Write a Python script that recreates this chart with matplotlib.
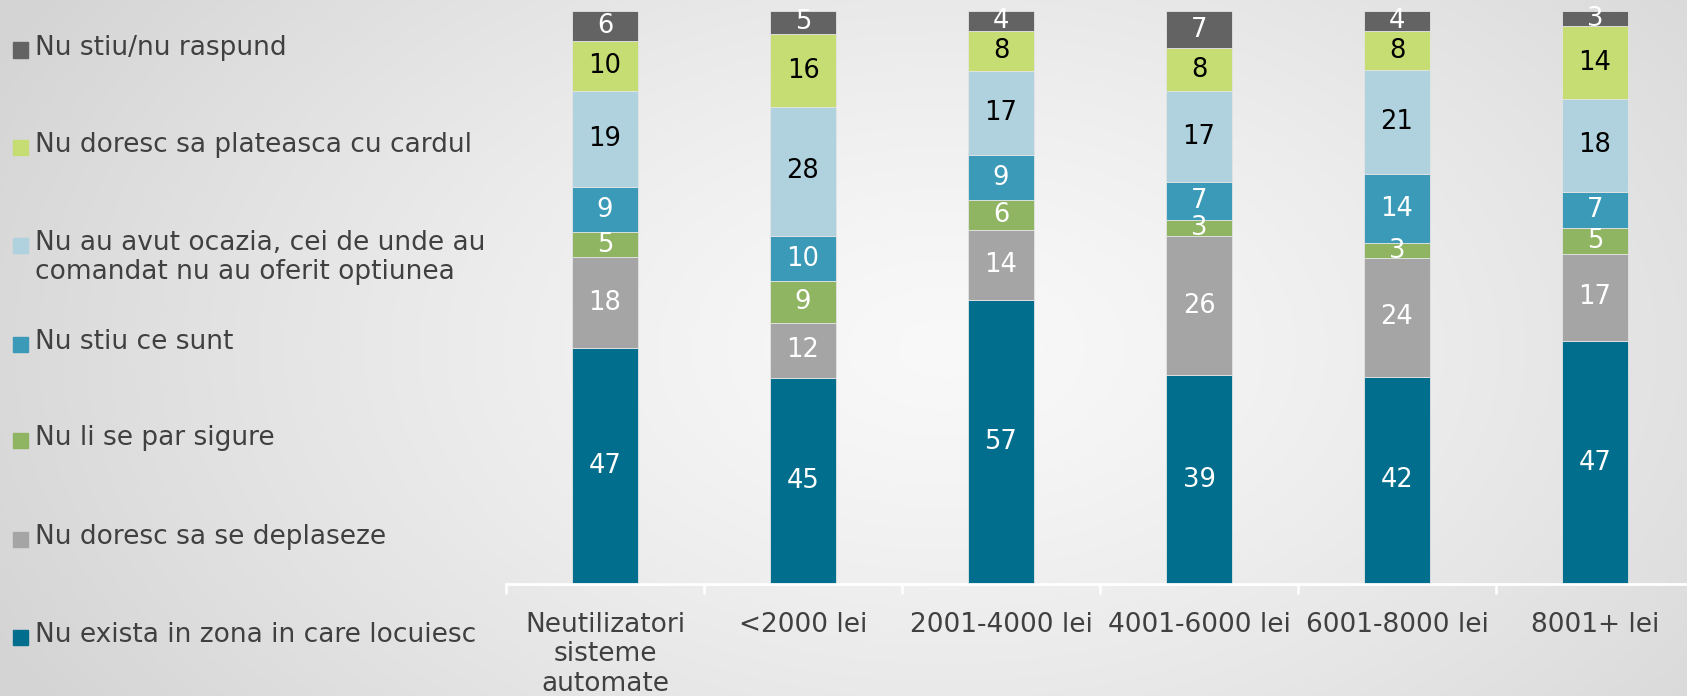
import numpy as np
import matplotlib
matplotlib.use("Agg")
import matplotlib.pyplot as plt
from matplotlib.patches import Rectangle

plt.rcParams['font.family'] = ['DejaVu Sans']

categories = ["Neutilizatori\nsisteme\nautomate", "<2000 lei", "2001-4000 lei",
              "4001-6000 lei", "6001-8000 lei", "8001+ lei"]

series_names = [
    "Nu exista in zona in care locuiesc",
    "Nu doresc sa se deplaseze",
    "Nu li se par sigure",
    "Nu stiu ce sunt",
    "Nu au avut ocazia, cei de unde au\ncomandat nu au oferit optiunea",
    "Nu doresc sa plateasca cu cardul",
    "Nu stiu/nu raspund",
]
exista = [47, 45, 57, 39, 42, 47]
deplaseze = [18, 12, 14, 26, 24, 17]
sigure = [5, 9, 6, 3, 3, 5]
stiu_ce = [9, 10, 9, 7, 14, 7]
ocazia = [19, 28, 17, 17, 21, 18]
card = [10, 16, 8, 8, 8, 14]
nu_stiu = [6, 5, 4, 7, 4, 3]
series = [exista, deplaseze, sigure, stiu_ce, ocazia, card, nu_stiu]

colors = ["#006e8c", "#a5a5a5", "#8fb563", "#3a9ab7", "#b0d1de", "#c5dd73", "#636363"]
label_colors = ["white", "white", "white", "white", "black", "black", "white"]

W, H = 1687, 696
fig = plt.figure(figsize=(W / 100, H / 100), dpi=100)

# background radial gradient
bg = fig.add_axes([0, 0, 1, 1], zorder=-10)
yy, xx = np.mgrid[0:H, 0:W]
cx, cy = 0.56 * W, 0.50 * H
r = np.sqrt(((xx - cx) / (0.62 * W)) ** 2 + ((yy - cy) / (0.95 * H)) ** 2)
r = np.clip(r, 0, 1)
val = 0.975 - (0.975 - 0.835) * r ** 1.3
bg.imshow(np.dstack([val, val, val]), extent=[0, 1, 0, 1], aspect='auto', origin='upper')
bg.axis('off')

ax = fig.add_axes([506 / W, 112 / H, 1188 / W, 573 / H])
ax.set_facecolor('none')

data = np.array(series, dtype=float)
totals = data.sum(axis=0)
norm = data / totals
x = np.arange(len(categories))
bottom = np.zeros(len(categories))
for i in range(len(series)):
    ax.bar(x, norm[i], width=0.335, bottom=bottom, color=colors[i],
           edgecolor='#e4e4e4', linewidth=0.6)
    for j in range(len(categories)):
        ax.text(x[j], bottom[j] + norm[i][j] / 2, str(series[i][j]),
                ha='center', va='center', fontsize=18.5, color=label_colors[i])
    bottom += norm[i]

ax.set_xlim(-0.5, len(categories) - 0.5)
ax.set_ylim(0, 1)
ax.set_yticks([])
for s in ['top', 'right', 'left']:
    ax.spines[s].set_visible(False)
ax.spines['bottom'].set_color('white')
ax.spines['bottom'].set_linewidth(2)
ax.set_xticks(x)
ax.set_xticklabels(categories, fontsize=19, color='#404040', linespacing=1.17)
ax.tick_params(axis='x', which='major', length=0, pad=20)
ax.set_xticks(np.arange(-0.5, len(categories), 1.0), minor=True)
ax.tick_params(axis='x', which='minor', length=7, width=1.8, color='white')

# legend (manual, left side)
leg_y = [637, 539, 440, 344, 245, 147, 50]
for i, name in enumerate(series_names):
    yc = leg_y[i]
    fig.patches.append(Rectangle((13 / W, 1 - (yc + 7.5) / H), 15 / W, 15 / H,
                                 transform=fig.transFigure, color=colors[i]))
    fig.text(35 / W, 1 - (yc - 15) / H, name, fontsize=19, color='#404040',
             ha='left', va='top', linespacing=1.17)

fig.savefig("out.png", dpi=100)
